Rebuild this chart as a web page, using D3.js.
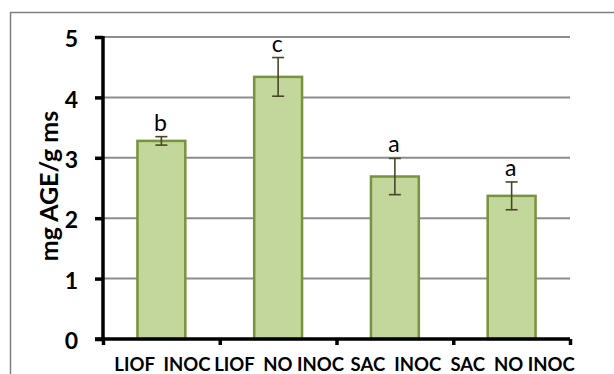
<!DOCTYPE html>
<html>
<head>
<meta charset="utf-8">
<script src="https://cdn.jsdelivr.net/npm/d3@7"></script>
<style>
  html, body { margin: 0; padding: 0; background: #fff; }
  svg { display: block; }
  text { font-family: Lato, "Open Sans", sans-serif; }
</style>
</head>
<body>
<svg id="chart" width="614" height="374"></svg>
<script>
// Treatments and measured AGE content (mg AGE / g dry matter)
const categories = ["LIOF  INOC", "LIOF  NO INOC", "SAC  INOC", "SAC  NO INOC"];
const values = [3.28, 4.34, 2.69, 2.37];
const errors = [0.07, 0.32, 0.30, 0.23];
const letters = ["b", "c", "a", "a"];
const yTicks = [0, 1, 2, 3, 4, 5];

const svg = d3.select("#chart");
const W = 614, H = 374;
const m = { left: 103, right: 44, top: 37, bottom: 35 };
const x0 = m.left, x1 = W - m.right, y0 = H - m.bottom, y1 = m.top;

// outer frame (left and top edges visible)
svg.append("path")
  .attr("d", `M10.5,${H} L10.5,12.5 L${W},12.5`)
  .attr("fill", "none").attr("stroke", "#7f7f7f").attr("stroke-width", 1.5);

const x = d3.scaleBand().domain(categories).range([x0, x1]).paddingInner(0.59).paddingOuter(0.295);
const y = d3.scaleLinear().domain([0, 5]).range([y0, y1]);

// horizontal gridlines
svg.append("g").selectAll("line").data(yTicks.filter(d => d > 0)).join("line")
  .attr("x1", x0).attr("x2", x1)
  .attr("y1", d => y(d)).attr("y2", d => y(d))
  .attr("stroke", "#8c8c8c").attr("stroke-width", 2);

// bars
svg.append("g").selectAll("rect").data(values).join("rect")
  .attr("x", (d, i) => x(categories[i]))
  .attr("width", x.bandwidth())
  .attr("y", d => y(d))
  .attr("height", d => y(0) - y(d))
  .attr("fill", "#c3d69b")
  .attr("stroke", "#77933c").attr("stroke-width", 2.5);

// error bars
const eb = svg.append("g").attr("stroke", "#4a452a").attr("stroke-width", 1.6);
values.forEach((v, i) => {
  const cx = x(categories[i]) + x.bandwidth() / 2;
  const hi = y(v + errors[i]), lo = y(v - errors[i]);
  eb.append("line").attr("x1", cx).attr("x2", cx).attr("y1", hi).attr("y2", lo);
  eb.append("line").attr("x1", cx - 6).attr("x2", cx + 6).attr("y1", hi).attr("y2", hi);
  eb.append("line").attr("x1", cx - 6).attr("x2", cx + 6).attr("y1", lo).attr("y2", lo);
});

// significance letters
svg.append("g").selectAll("text").data(letters).join("text")
  .attr("x", (d, i) => x(categories[i]) + x.bandwidth() / 2 - 1)
  .attr("y", (d, i) => y(values[i] + errors[i]) - 6)
  .attr("text-anchor", "middle")
  .attr("font-size", 23).attr("fill", "#000")
  .text(d => d);

// y axis
const yAxis = d3.axisLeft(y).tickValues(yTicks).tickSize(8).tickPadding(17).tickFormat(d3.format("d"));
const gy = svg.append("g").attr("transform", `translate(${x0},0)`).call(yAxis);
gy.select(".domain").attr("stroke", "#000").attr("stroke-width", 3.5)
  .attr("d", `M0,${y1 - 1}V${y0 + 1}`);
gy.selectAll(".tick line").attr("stroke", "#000").attr("stroke-width", 3.5);
gy.selectAll(".tick text").attr("font-size", 23).attr("font-weight", "bold").attr("fill", "#000")
  .attr("font-family", "Lato, sans-serif").attr("dy", "0.42em");

// x axis with boundary ticks between categories
const xb = d3.scaleLinear().domain([0, categories.length]).range([x0, x1]);
const gx = svg.append("g").attr("transform", `translate(0,${y0})`)
  .call(d3.axisBottom(xb).tickValues(d3.range(categories.length + 1)).tickSize(6).tickFormat(""));
gx.select(".domain").attr("stroke", "#000").attr("stroke-width", 3.5).attr("d", `M${x0 - 8},0H${x1}`);
gx.selectAll(".tick line").attr("stroke", "#000").attr("stroke-width", 3.5);

// category labels, set slightly condensed
svg.append("g").selectAll("text").data(categories).join("text")
  .attr("x", d => x(d) + x.bandwidth() / 2 + 1)
  .attr("y", 371)
  .attr("text-anchor", "middle")
  .attr("font-size", 19.5).attr("font-weight", "bold").attr("fill", "#000")
  .style("white-space", "pre")
  .text(d => d)
  .each(function () {
    const w = this.getComputedTextLength();
    d3.select(this).attr("textLength", w * 0.95).attr("lengthAdjust", "spacingAndGlyphs");
  });

// y axis title
svg.append("text")
  .attr("transform", `translate(58,186) rotate(-90)`)
  .attr("text-anchor", "middle")
  .attr("font-size", 25).attr("font-weight", "bold").attr("fill", "#000")
  .text("mg AGE/g ms");
</script>
</body>
</html>
